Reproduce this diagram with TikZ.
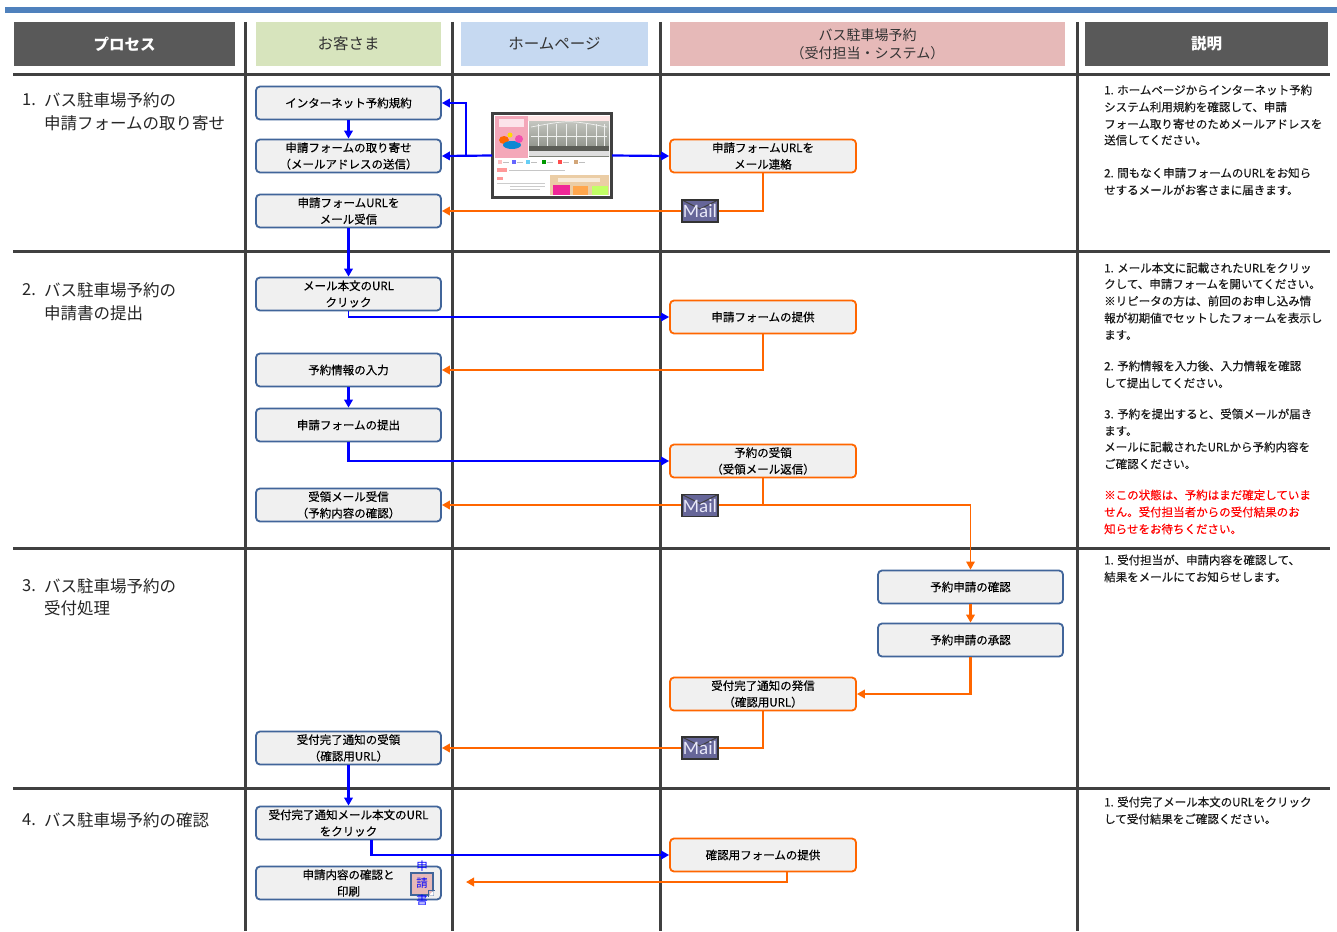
\documentclass[tikz,border=0pt]{standalone}
\usepackage{fontspec}
\setmainfont{Noto Sans CJK JP}
\newfontfamily\heavyfont[FakeBold=0.3]{Noto Sans CJK JP}
\newfontfamily\mailfont{Carlito}
\usetikzlibrary{arrows.meta,calc}
\definecolor{barcol}{HTML}{4F81BD}
\definecolor{hdrgray}{HTML}{595959}
\definecolor{hgreen}{HTML}{D7E4BD}
\definecolor{hblue}{HTML}{C6D9F1}
\definecolor{hpink}{HTML}{E6B9B8}
\definecolor{gridcol}{HTML}{404040}
\definecolor{cblue}{HTML}{41659A}
\definecolor{boxfill}{HTML}{F0F0F0}
\definecolor{orng}{HTML}{FF6600}
\definecolor{arrblue}{HTML}{0000FF}
\definecolor{mailfill}{HTML}{666699}
\definecolor{mailtext}{HTML}{E8E8F8}
\definecolor{webpink}{HTML}{F4A7B9}
\definecolor{beige}{HTML}{EBCDA5}
\definecolor{photo1}{HTML}{C4C6C0}
\definecolor{photo2}{HTML}{80847B}
\newcounter{dl}
\newcommand\dline[2]{\stepcounter{dl}\node[dtxt] (dl\arabic{dl}) at (1104,#1) {#2};}
\newcommand\rline[2]{\stepcounter{dl}\node[dtxt,text=red] (dl\arabic{dl}) at (1104,#1) {#2};}
\begin{document}
\begin{tikzpicture}[x=1pt,y=-1pt,
  cbox/.style={draw=cblue, line width=1.8pt, fill=boxfill, rounded corners=4pt,
    minimum width=185pt, minimum height=33pt, align=center, inner sep=0pt,
    font=\heavyfont\fontsize{11.5}{16.5}\selectfont},
  sbox/.style={cbox, draw=orng, minimum width=186pt},
  barr/.style={draw=arrblue, line width=2.2pt, -{Triangle[length=8pt,width=8.5pt]}},
  barrt/.style={barr, line width=1.5pt},
  oarr/.style={draw=orng, line width=2.2pt, -{Triangle[length=8pt,width=8.5pt]}},
  oarrt/.style={oarr, line width=1.5pt},
  hdr/.style={minimum height=44pt, inner sep=0pt, align=center},
  gridln/.style={draw=gridcol, line width=3pt},
  ptxt/.style={anchor=west, inner sep=0pt, font=\fontsize{16.5}{18}\selectfont, text=black!85},
  dtxt/.style={anchor=west, inner sep=0pt, font=\heavyfont\fontsize{11.5}{13}\selectfont, text=black!90},
  mail/.style={minimum width=36pt, minimum height=22pt, fill=mailfill, draw=black!80,
    line width=1.2pt, text=mailtext, inner sep=0pt,
    font=\mailfont\fontsize{19}{19}\selectfont,
    path picture={\draw[black!75, line width=1pt]
      (path picture bounding box.north west) -- ([yshift=-9pt]path picture bounding box.north)
      -- (path picture bounding box.north east);}},
]
\useasboundingbox (0,0) rectangle (1337,931);
\fill[white] (0,0) rectangle (1337,931);

% top bar
\fill[barcol] (5,7) rectangle (1337,13);

% headers
\node[hdr, fill=hdrgray, minimum width=221pt, text=white, font=\fontsize{15.5}{18}\selectfont\bfseries] (hproc) at (124.5,44) {プロセス};
\node[hdr, fill=hgreen, minimum width=185pt, text=black!80, font=\fontsize{15.5}{18}\selectfont] (hcust) at (348.5,44) {お客さま};
\node[hdr, fill=hblue, minimum width=187pt, text=black!80, font=\fontsize{15.5}{18}\selectfont] (hweb) at (554.5,44) {ホームページ};
\node[hdr, fill=hpink, minimum width=395pt, text=black!80, font=\fontsize{14}{18}\selectfont] (hsys) at (867.5,44) {バス駐車場予約\\（受付担当・システム）};
\node[hdr, fill=hdrgray, minimum width=243pt, text=white, font=\fontsize{15.5}{18}\selectfont\bfseries] (hdesc) at (1206.5,44) {説明};

% grid lines
\foreach \gx in {245,452,660,1077} \draw[gridln] (\gx,22) -- (\gx,931);
\foreach \gy in {75,251,548,788} \draw[gridln] (13,\gy) -- (1330,\gy);

% process texts
\node[ptxt] (p1n) at (22,100) {1.};
\node[ptxt] (p1a) at (44,100) {バス駐車場予約の};
\node[ptxt] (p1b) at (44,123) {申請フォームの取り寄せ};
\node[ptxt] (p2n) at (22,290) {2.};
\node[ptxt] (p2a) at (44,290) {バス駐車場予約の};
\node[ptxt] (p2b) at (44,313) {申請書の提出};
\node[ptxt] (p3n) at (22,586) {3.};
\node[ptxt] (p3a) at (44,586) {バス駐車場予約の};
\node[ptxt] (p3b) at (44,608) {受付処理};
\node[ptxt] (p4n) at (22,820) {4.};
\node[ptxt] (p4a) at (44,820) {バス駐車場予約の確認};

% customer boxes
\node[cbox] (c1) at (348.5,103) {インターネット予約規約};
\node[cbox] (c2) at (348.5,156) {申請フォームの取り寄せ\\（メールアドレスの送信）};
\node[cbox] (c3) at (348.5,211) {申請フォームURLを\\メール受信};
\node[cbox] (c4) at (348.5,294) {メール本文のURL\\クリック};
\node[cbox] (c5) at (348.5,370) {予約情報の入力};
\node[cbox] (c6) at (348.5,425) {申請フォームの提出};
\node[cbox] (c7) at (348.5,505) {受領メール受信\\（予約内容の確認）};
\node[cbox] (c8) at (348.5,748) {受付完了通知の受領\\（確認用URL）};
\node[cbox] (c9) at (348.5,823) {受付完了通知メール本文のURL\\をクリック};
\node[cbox] (c10) at (348.5,883) {申請内容の確認と\\印刷};

% system boxes
\node[sbox] (s1) at (763,156) {申請フォームURLを\\メール連絡};
\node[sbox] (s2) at (763,317) {申請フォームの提供};
\node[sbox] (s3) at (763,461) {予約の受領\\（受領メール返信）};
\node[sbox] (s4) at (763,694) {受付完了通知の発信\\（確認用URL）};
\node[sbox] (s5) at (763,855) {確認用フォームの提供};
\node[cbox] (r1) at (970.5,587) {予約申請の確認};
\node[cbox] (r2) at (970.5,640) {予約申請の承認};

% web page screenshot
\node[draw=gridcol, line width=2pt, fill=white, minimum width=118pt, minimum height=82pt, inner sep=0pt] (shot) at (552,155.5) {};
\fill[webpink] (495,116) rectangle (528,158);
\fill[white!70!webpink] (499,119) rectangle (524,127);
\fill[pink!40] (528,116) rectangle (610,121);
\shade[top color=photo1, bottom color=photo2] (529,121) rectangle (609,156);
\foreach \vx in {538,547,556,566,576,586,596,604} \draw[white!75!photo1, line width=0.7pt] (\vx,124) -- (\vx,148);
\draw[white!75!photo1, line width=0.7pt] (531,127) .. controls (569,120) .. (607,127);
\draw[white!75!photo1, line width=0.7pt] (531,136) -- (607,136);
\fill[photo2!70!black] (529,146) rectangle (609,151);
\fill[gray!25] (529,151) rectangle (609,156);
\fill[orange!80!red] (504,140) ellipse (5pt and 4pt);
\fill[cyan!70!blue] (512,145) ellipse (9pt and 4pt);
\fill[magenta!70] (519,139) ellipse (4pt and 4pt);
\fill[yellow!80!orange] (510,135) circle (2.5pt);
\fill[white] (495,158) rectangle (610,167);
\foreach \nx/\nc in {498/pink,512/blue!60,526/cyan!60,542/green!60!black,558/red!70,574/brown!70} {\fill[\nc] (\nx,160) rectangle (\nx+4,164); \fill[gray!50] (\nx+5,161.5) rectangle (\nx+11,162.5);}
\fill[pink!80!red] (497,168) rectangle (507,172);
\fill[gray!45] (509,169.5) rectangle (565,170.5);
\fill[pink!80!red] (497,177) rectangle (503,180);
\fill[gray!40] (497,183) rectangle (545,184);
\fill[gray!40] (510,186) rectangle (545,187);
\fill[gray!40] (510,189) rectangle (540,190);
\fill[beige] (550,175) rectangle (609,194.5);
\fill[white!60!beige] (558,178) rectangle (600,182);
\fill[magenta!80!pink] (553,185) rectangle (570,194.5);
\fill[orange!70] (573,186) rectangle (588,194.5);
\fill[green!40!yellow!60] (592,186) rectangle (608,194.5);
\draw[gridcol, line width=2pt] (shot.north west) rectangle (shot.south east);

% blue connectors
\draw[barr] (c1.south) -- (c2.north);
\draw[barr] (shot.west) -- (c2.east);
\coordinate (j1) at (466,156);
\draw[barr] (j1) |- (c1.east);
\draw[barr] (shot.east) -- (s1.west);
\draw[barr] (c3.south) -- (c4.north);
\draw[barrt] (c4.south) |- (s2.west);
\draw[barr] (c5.south) -- (c6.north);
\draw[barr] (c6.south) |- (s3.west);
\draw[barr] (c8.south) -- (c9.north);
\draw[barr] ([xshift=23pt]c9.south) |- (s5.west);

% orange connectors
\draw[oarr] (s1.south) |- (c3.east);
\draw[oarr] (s2.south) |- (c5.east);
\draw[oarr] (s3.south) |- (c7.east);
\coordinate (j2) at ($(s3.south |- c7.east)$);
\draw[oarrt] (j2) -| (r1.north);
\draw[oarr] (r1.south) -- (r2.north);
\draw[oarr] (r2.south) |- (s4.east);
\draw[oarr] (s4.south) |- (c8.east);
\coordinate (e5) at (466,882);
\draw[oarr] ([xshift=24pt]s5.south) |- (e5);

% mail icons
\node[mail] (m1) at (700,211) {\raisebox{-3pt}{Mail}};
\node[mail] (m2) at (700,505.5) {\raisebox{-3pt}{Mail}};
\node[mail] (m3) at (700,748) {\raisebox{-3pt}{Mail}};

% application document icon
\node[draw=cblue, line width=1.2pt, fill=hpink, minimum width=22pt, minimum height=22pt, inner sep=0pt] (doc) at (422,884) {};
\fill[white] ($(doc.south east)+(-5,0)$) -- (doc.south east) -- ($(doc.south east)+(0,-5)$) -- cycle;
\draw[cblue, line width=1pt] ($(doc.south east)+(-5,1)$) -- ($(doc.south east)+(-5,-5)$) -- ($(doc.south east)+(1,-5)$);
\node[text=arrblue, inner sep=0pt, font=\fontsize{11.5}{11.5}\selectfont] (dk1) at (422,866) {申};
\node[text=arrblue, inner sep=0pt, font=\fontsize{11.5}{11.5}\selectfont] (dk2) at (422,883) {請};
\node[text=arrblue, inner sep=0pt, font=\fontsize{11.5}{11.5}\selectfont] (dk3) at (422,900) {書};

% descriptions
\dline{90}{1. ホームページからインターネット予約}
\dline{107}{システム利用規約を確認して、申請}
\dline{124}{フォーム取り寄せのためメールアドレスを}
\dline{140}{送信してください。}
\dline{173}{2. 間もなく申請フォームのURLをお知ら}
\dline{190}{せするメールがお客さまに届きます。}
\dline{268}{1. メール本文に記載されたURLをクリッ}
\dline{284}{クして、申請フォームを開いてください。}
\dline{301}{※リピータの方は、前回のお申し込み情}
\dline{318}{報が初期値でセットしたフォームを表示し}
\dline{335}{ます。}
\dline{366}{2. 予約情報を入力後、入力情報を確認}
\dline{383}{して提出してください。}
\dline{414}{3. 予約を提出すると、受領メールが届き}
\dline{431}{ます。}
\dline{447}{メールに記載されたURLから予約内容を}
\dline{464}{ご確認ください。}
\rline{495}{※この状態は、予約はまだ確定していま}
\rline{512}{せん。受付担当者からの受付結果のお}
\rline{529}{知らせをお待ちください。}
\dline{560}{1. 受付担当が、申請内容を確認して、}
\dline{577}{結果をメールにてお知らせします。}
\dline{802}{1. 受付完了メール本文のURLをクリック}
\dline{819}{して受付結果をご確認ください。}
\end{tikzpicture}
\end{document}
